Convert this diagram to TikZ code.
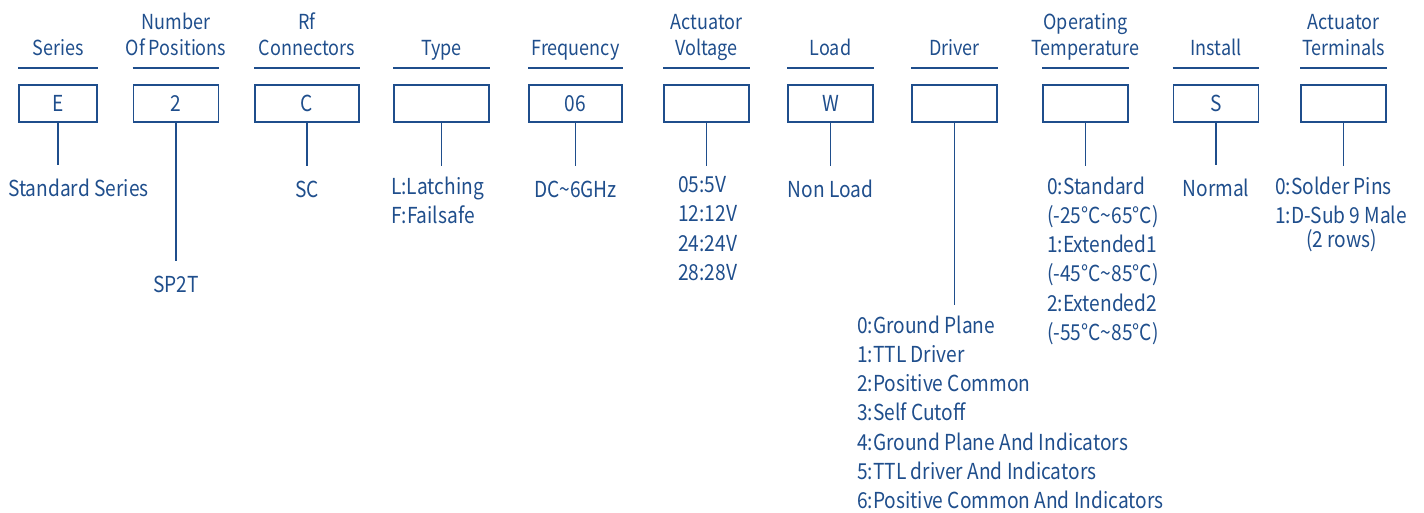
\documentclass[tikz,border=0pt]{standalone}
\usepackage{fontspec}
\setmainfont{Noto Sans CJK SC}[FakeStretch=0.87]
\usepackage{tikz}
\usetikzlibrary{positioning}
\definecolor{specblue}{RGB}{31,78,140}

\begin{document}
\begin{tikzpicture}[x=1pt, y=-1pt,
        code/.style={rectangle, draw=specblue, line width=1.8pt, minimum height=37pt, inner sep=0pt, text=specblue, font=\fontsize{22}{26}\selectfont},
        head/.style={inner sep=0pt, align=center, text=specblue, font=\fontsize{20.7}{26}\selectfont, execute at end node=\strut},
        rule/.style={draw=specblue, line width=1.8pt},
        link/.style={draw=specblue, line width=1.8pt},
        desc/.style={inner sep=0pt, align=left, text=specblue, font=\fontsize{22}{29.3}\selectfont, execute at begin node=\strut}
    ]
        \useasboundingbox (0,0) rectangle (1424,512);

        % Code boxes
        \node[code, minimum width=78pt] (ser) at (58,103.5) {E};
        \node[code, minimum width=85pt] (pos) at (176,103.5) {2};
        \node[code, minimum width=104pt] (rf) at (307,103.5) {C};
        \node[code, minimum width=95pt] (typ) at (441.5,103.5) {};
        \node[code, minimum width=93pt] (frq) at (575.5,103.5) {06};
        \node[code, minimum width=85pt] (vol) at (706.5,103.5) {};
        \node[code, minimum width=85pt] (lod) at (830.5,103.5) {W};
        \node[code, minimum width=85pt] (drv) at (954.5,103.5) {};
        \node[code, minimum width=85pt] (tmp) at (1085.5,103.5) {};
        \node[code, minimum width=85pt] (ins) at (1216,103.5) {S};
        \node[code, minimum width=85pt] (trm) at (1343.5,103.5) {};

        % Headers
        \node[head, above=20.8pt of ser] (ser-h) {Series};
        \node[head, above=20.8pt of pos] (pos-h) {Number\\Of Positions};
        \node[head, above=20.8pt of rf] (rf-h) {Rf\\Connectors};
        \node[head, above=20.8pt of typ] (typ-h) {Type};
        \node[head, above=20.8pt of frq] (frq-h) {Frequency};
        \node[head, above=20.8pt of vol] (vol-h) {Actuator\\Voltage};
        \node[head, above=20.8pt of lod] (lod-h) {Load};
        \node[head, above=20.8pt of drv] (drv-h) {Driver};
        \node[head, above=20.8pt of tmp] (tmp-h) {Operating\\Temperature};
        \node[head, above=20.8pt of ins] (ins-h) {Install};
        \node[head, above=20.8pt of trm] (trm-h) {Actuator\\Terminals};

        % Rules under the headers
        \foreach \c in {ser, pos, rf, typ, frq, vol, lod, drv, tmp, ins, trm}
            \draw[rule] ([yshift=16pt]\c.north west) -- ([yshift=16pt]\c.north east);

        % Connector ends
        \coordinate (ser-e) at ([yshift=-42pt]ser.south);
        \coordinate (pos-e) at ([yshift=-138pt]pos.south);
        \coordinate (rf-e) at ([yshift=-43pt]rf.south);
        \coordinate (typ-e) at ([yshift=-43pt]typ.south);
        \coordinate (frq-e) at ([yshift=-43pt]frq.south);
        \coordinate (vol-e) at ([yshift=-43pt]vol.south);
        \coordinate (lod-e) at ([yshift=-43pt]lod.south);
        \coordinate (drv-e) at ([yshift=-182pt]drv.south);
        \coordinate (tmp-e) at ([yshift=-43pt]tmp.south);
        \coordinate (ins-e) at ([yshift=-42pt]ins.south);
        \coordinate (trm-e) at ([yshift=-43pt]trm.south);

        \foreach \c in {ser, pos, rf, typ, frq, vol, lod, drv, tmp, ins, trm}
            \draw[link] (\c) -- (\c-e);

        % Options
        \node[desc, anchor=north west] (ser-d) at ([xshift=-50pt, yshift=-10.4pt]ser-e) {Standard Series};
        \node[desc, below=10.4pt of pos-e] (pos-d) {SP2T};
        \node[desc, below=10.4pt of rf-e] (rf-d) {SC};
        \node[desc, anchor=north west] (typ-d) at ([xshift=-50.5pt, yshift=-10.4pt]typ-e) {L:Latching\\F:Failsafe};
        \node[desc, below=10.4pt of frq-e] (frq-d) {DC\textasciitilde6GHz};
        \node[desc, anchor=north west] (vol-d) at ([xshift=-28.5pt, yshift=-10.4pt]vol-e) {05:5V\\12:12V\\24:24V\\28:28V};
        \node[desc, below=10.4pt of lod-e] (lod-d) {Non Load};
        \node[desc, anchor=north west] (drv-d) at ([xshift=-97.5pt, yshift=-10.4pt]drv-e) {0:Ground Plane\\1:TTL Driver\\2:Positive Common\\3:Self Cutoff\\4:Ground Plane And Indicators\\5:TTL driver And Indicators\\6:Positive Common And Indicators};
        \node[desc, anchor=north west] (tmp-d) at ([xshift=-38.5pt, yshift=-10.4pt]tmp-e) {0:Standard\\(-25°C\textasciitilde65°C)\\1:Extended1\\(-45°C\textasciitilde85°C)\\2:Extended2\\(-55°C\textasciitilde85°C)};
        \node[desc, below=10.4pt of ins-e] (ins-d) {Normal};
        \node[desc, anchor=north west] (trm-d) at ([xshift=-68.5pt, yshift=-10.4pt]trm-e) {0:Solder Pins\\1:D-Sub 9 Male\\[-5pt]\hspace*{31pt}(2 rows)};
    \end{tikzpicture}
\end{document}
